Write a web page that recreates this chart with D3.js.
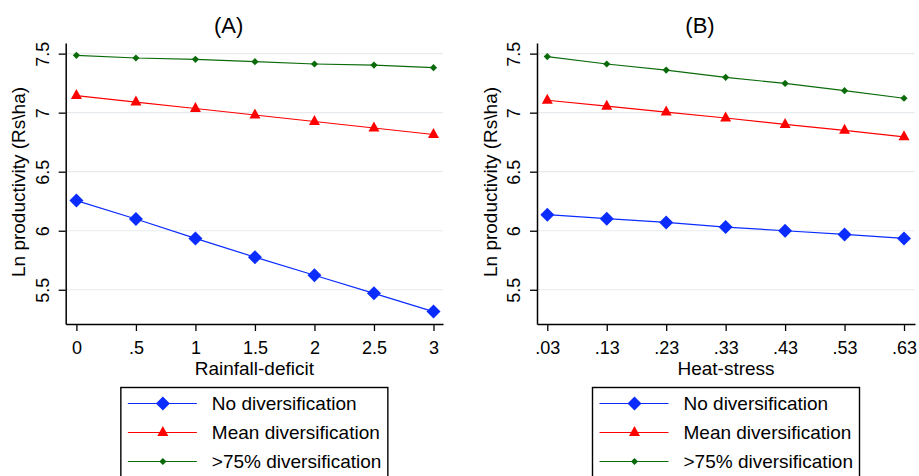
<!DOCTYPE html>
<html>
<head>
<meta charset="utf-8">
<script src="https://cdn.jsdelivr.net/npm/d3@7"></script>
<style>
  body { margin: 0; background: #fff; }
  svg { display: block; font-family: "Liberation Sans", Arial, sans-serif; }
</style>
</head>
<body>
<div id="chart"></div>
<script>
const width = 919;
const height = 476;

// data
const seriesNames = ["No diversification", "Mean diversification", ">75% diversification"];
const seriesColors = ["#0a2cff", "#ff0000", "#0b6b0b"];
const seriesShapes = ["bigDiamond", "triangle", "smallDiamond"];

const yTicks = [5.5, 6, 6.5, 7, 7.5];

const rainfall = [0, 0.5, 1, 1.5, 2, 2.5, 3];
const rainfallLabels = ["0", ".5", "1", "1.5", "2", "2.5", "3"];
const rainNo = [6.255, 6.099, 5.935, 5.776, 5.623, 5.47, 5.315];
const rainMean = [7.145, 7.09, 7.035, 6.98, 6.925, 6.87, 6.815];
const rainHigh = [7.486, 7.463, 7.452, 7.432, 7.412, 7.403, 7.381];

const heat = [0.03, 0.13, 0.23, 0.33, 0.43, 0.53, 0.63];
const heatLabels = [".03", ".13", ".23", ".33", ".43", ".53", ".63"];
const heatNo = [6.136, 6.102, 6.07, 6.031, 6.0, 5.969, 5.935];
const heatMean = [7.105, 7.055, 7.005, 6.955, 6.9, 6.85, 6.795];
const heatHigh = [7.475, 7.412, 7.361, 7.299, 7.248, 7.186, 7.122];

const svg = d3.select("#chart").append("svg")
    .attr("width", width)
    .attr("height", height);

function marker(g, shape, color) {
    if (shape === "bigDiamond") {
        g.append("path").attr("d", "M0,-7L7,0L0,7L-7,0Z").attr("fill", color);
    } else if (shape === "triangle") {
        g.append("path").attr("d", "M0,-6.5L5.5,3.5L-5.5,3.5Z").attr("fill", color);
    } else {
        g.append("path").attr("d", "M0,-3.6L3.6,0L0,3.6L-3.6,0Z").attr("fill", color);
    }
}

function drawPanel(p) {
    const x = d3.scaleLinear().domain(p.xDomain).range([p.left, p.right]);
    const y = d3.scaleLinear().domain([5.21, 7.59]).range([324, 43]);
    const g = svg.append("g");

    // grid
    g.append("g").selectAll("line")
        .data(yTicks)
        .enter().append("line")
        .attr("x1", p.left)
        .attr("x2", p.right)
        .attr("y1", d => y(d))
        .attr("y2", d => y(d))
        .style("stroke", "#e8ebee")
        .style("stroke-width", 1.2);

    // y axis
    const yAxis = g.append("g")
        .attr("transform", `translate(${p.left},0)`)
        .call(d3.axisLeft(y).tickValues(yTicks).tickSize(7).tickSizeOuter(0).tickFormat(d3.format("")));
    yAxis.select(".domain").style("stroke", "#000").style("stroke-width", 1.5);
    yAxis.selectAll(".tick line").style("stroke", "#000").style("stroke-width", 1.3);
    yAxis.selectAll(".tick text")
        .attr("x", null).attr("dy", null)
        .attr("transform", "translate(-23,0) rotate(-90)")
        .attr("text-anchor", "middle")
        .attr("dominant-baseline", "central")
        .style("font-size", "18px")
        .style("fill", "#000");

    // x axis
    const xAxis = g.append("g")
        .attr("transform", "translate(0,324)")
        .call(d3.axisBottom(x).tickValues(p.xs).tickSize(7).tickSizeOuter(0)
            .tickFormat((d, i) => p.xLabels[i]));
    xAxis.select(".domain").style("stroke", "#000").style("stroke-width", 1.5);
    xAxis.selectAll(".tick line").style("stroke", "#000").style("stroke-width", 1.3);
    xAxis.selectAll(".tick text")
        .attr("y", 24).attr("dy", null)
        .attr("dominant-baseline", "central")
        .style("font-size", "18px")
        .style("fill", "#000");

    // series
    const line = d3.line().x(d => x(d[0])).y(d => y(d[1]));
    p.series.forEach((vals, si) => {
        const pts = p.xs.map((v, i) => [v, vals[i]]);
        g.append("path")
            .datum(pts)
            .attr("d", line)
            .style("fill", "none")
            .style("stroke", seriesColors[si])
            .style("stroke-width", 1.2);
        pts.forEach(pt => {
            const m = g.append("g").attr("transform", `translate(${x(pt[0])},${y(pt[1])})`);
            marker(m, seriesShapes[si], seriesColors[si]);
        });
    });

    // titles
    g.append("text")
        .attr("x", p.left + 163)
        .attr("y", 25)
        .attr("text-anchor", "middle")
        .attr("dominant-baseline", "central")
        .style("font-size", "22px")
        .text(p.title);

    g.append("text")
        .attr("transform", `translate(${p.left - 47},182) rotate(-90)`)
        .attr("text-anchor", "middle")
        .attr("dominant-baseline", "central")
        .style("font-size", "19px")
        .text("Ln productivity (Rs\\ha)");

    const mid = (p.left + p.right) / 2;
    g.append("text")
        .attr("x", mid)
        .attr("y", 368)
        .attr("text-anchor", "middle")
        .attr("dominant-baseline", "central")
        .style("font-size", "19px")
        .text(p.xTitle);

    // legend
    const lx = mid - 133.5;
    const leg = g.append("g").attr("transform", `translate(${lx},387.5)`);
    leg.append("rect")
        .attr("width", 267)
        .attr("height", 110)
        .style("fill", "#fff")
        .style("stroke", "#000")
        .style("stroke-width", 1.4);
    seriesNames.forEach((name, si) => {
        const ry = 16 + si * 29;
        leg.append("line")
            .attr("x1", 7).attr("x2", 76)
            .attr("y1", ry).attr("y2", ry)
            .style("stroke", seriesColors[si])
            .style("stroke-width", 1.2);
        const m = leg.append("g").attr("transform", `translate(42,${ry})`);
        marker(m, seriesShapes[si], seriesColors[si]);
        leg.append("text")
            .attr("x", 91)
            .attr("y", ry)
            .attr("dominant-baseline", "central")
            .style("font-size", "19px")
            .text(name);
    });
}

drawPanel({
    title: "(A)",
    xTitle: "Rainfall-deficit",
    left: 65.7, right: 443,
    xDomain: [-0.09, 3.08],
    xs: rainfall, xLabels: rainfallLabels,
    series: [rainNo, rainMean, rainHigh]
});

drawPanel({
    title: "(B)",
    xTitle: "Heat-stress",
    left: 537, right: 915,
    xDomain: [0.0127, 0.6485],
    xs: heat, xLabels: heatLabels,
    series: [heatNo, heatMean, heatHigh]
});
</script>
</body>
</html>
